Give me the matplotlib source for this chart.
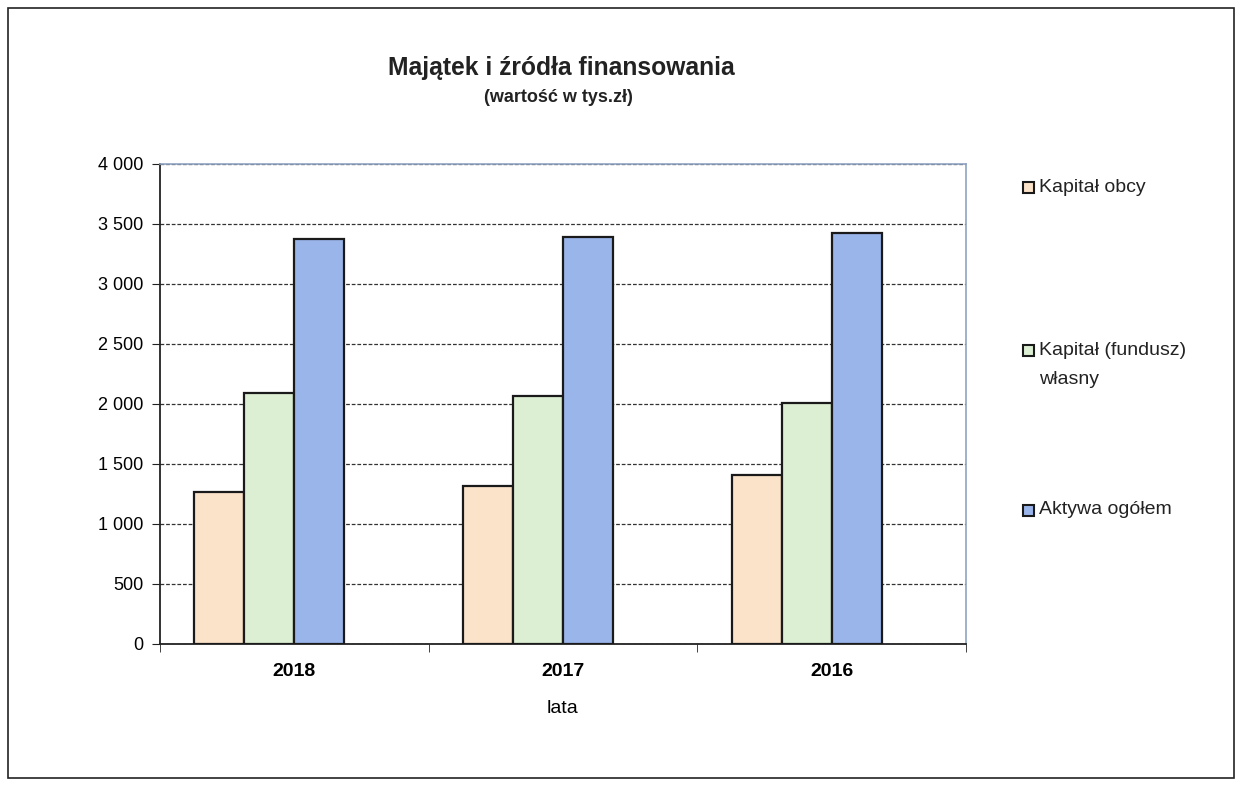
import numpy as np
import matplotlib.pyplot as plt
from matplotlib.patches import Rectangle
from matplotlib.ticker import FuncFormatter

plt.rcParams['font.family'] = ['Liberation Sans', 'DejaVu Sans']

#   data (tys. zl)
lata = ['2018', '2017', '2016']
kapital_obcy = [1267, 1317, 1408]
kapital_wlasny = [2092, 2067, 2008]
aktywa = [3375, 3392, 3425]

serie = ['Kapitał obcy', 'Kapitał (fundusz)', 'Aktywa ogółem']
kolory = ['#FBE3C9', '#DCEFD3', '#9AB5EA']

fig = plt.figure(figsize=(12.42, 7.86), dpi=100)
ax = fig.add_axes([160 / 1242, 1 - 644 / 786, 806 / 1242, 480 / 786])

#   outer frame of the chart
fig.patches.append(Rectangle((8 / 1242, 8 / 786), 1226 / 1242, 770 / 786,
                             transform=fig.transFigure, fill=False,
                             edgecolor='#222222', linewidth=1.2))

#   group is laid out as for 4 slots, the last one stays empty
x = np.arange(len(lata))
w = 0.186
for i, (vals, kol) in enumerate(zip([kapital_obcy, kapital_wlasny, aktywa], kolory)):
    ax.bar(x + (i - 1.5) * w, vals, w, align='center', color=kol,
           edgecolor='#1a1a1a', linewidth=1.6, zorder=3)

ax.set_xlim(-0.5, 2.5)
ax.set_ylim(0, 4000)
ax.set_yticks(np.arange(0, 4001, 500))
ax.yaxis.set_major_formatter(FuncFormatter(lambda v, p: f'{int(v):,}'.replace(',', ' ')))
ax.yaxis.grid(True, linestyle=(0, (3, 1.5)), color='#333333', linewidth=0.9, zorder=0)

ax.set_xticks(x)
ax.set_xticklabels(lata, fontsize=14, fontweight='bold')
ax.set_xticks([-0.5, 0.5, 1.5, 2.5], minor=True)
ax.tick_params(axis='x', which='major', length=0, pad=14)
ax.tick_params(axis='x', which='minor', length=6, direction='out', color='#222222')
ax.tick_params(axis='y', labelsize=13, length=6, direction='out', color='#222222', pad=6)

for s in ['left', 'bottom']:
    ax.spines[s].set_color('#222222')
    ax.spines[s].set_linewidth(1.3)
for s in ['top', 'right']:
    ax.spines[s].set_color('#8FA3C4')
    ax.spines[s].set_linewidth(1.2)

ax.set_xlabel('lata', fontsize=14, labelpad=14)

fig.text(561 / 1242, 1 - 68 / 786, 'Majątek i źródła finansowania', ha='center',
         va='center', fontsize=17.7, fontweight='bold', color='#222222')
fig.text(558 / 1242, 1 - 98 / 786, '(wartość w tys.zł)', ha='center',
         va='center', fontsize=13, fontweight='bold', color='#222222')

#   legend drawn by hand
leg_y = [187, 350, 510]
for lab, kol, yy in zip(serie, kolory, leg_y):
    fig.patches.append(Rectangle((1023 / 1242, 1 - (yy + 6) / 786), 11 / 1242, 11 / 786,
                                 transform=fig.transFigure, facecolor=kol,
                                 edgecolor='#1a1a1a', linewidth=1.5))
    fig.text(1039 / 1242, 1 - yy / 786, lab, ha='left', va='center',
             fontsize=14, color='#222222')
fig.text(1039 / 1242, 1 - 380 / 786, 'własny', ha='left', va='center',
         fontsize=14, color='#222222')

fig.savefig('out.png', dpi=100)
